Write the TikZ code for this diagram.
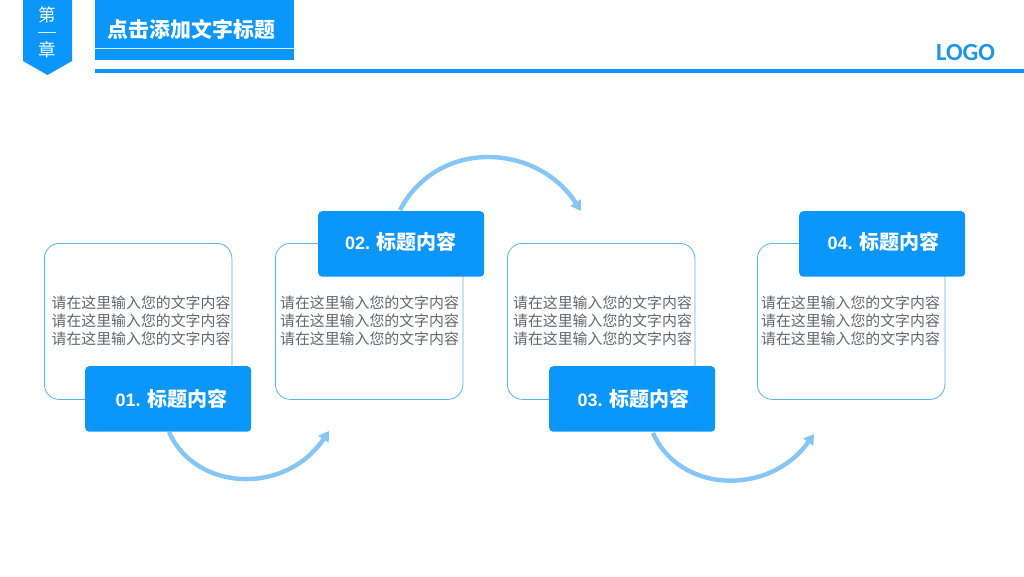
\documentclass[tikz,border=0pt]{standalone}
\usepackage{fontspec}
\setmainfont{Liberation Sans}
\newfontfamily\cjk{Noto Sans CJK SC}
\newfontfamily\logofont{Carlito}
\usetikzlibrary{arrows.meta,positioning}
\definecolor{mainblue}{HTML}{0A96FA}
\definecolor{arcblue}{HTML}{85C6F6}
\definecolor{cardline}{HTML}{5AB4E6}
\definecolor{bodygrey}{HTML}{62676E}
\definecolor{logoblue}{HTML}{1E96E6}
\tikzset{
  x=1pt,y=-1pt,
  card/.style={draw=cardline,line width=0.8pt,fill=white,rounded corners=15pt,minimum width=187.5pt,minimum height=156pt,inner sep=0pt,anchor=north west},
  body/.style={text=bodygrey,font=\cjk\fontsize{14.9pt}{18pt}\selectfont,align=center,inner sep=0pt},
  titlebox/.style={fill=mainblue,rounded corners=4pt,minimum width=166pt,minimum height=65.5pt,inner sep=0pt,anchor=north west},
  boxlabel/.style={text=white,inner sep=0pt,font=\fontsize{18pt}{20pt}\selectfont\bfseries},
  flow/.style={draw=arcblue,line width=4.4pt,-{Triangle[length=10pt,width=12pt]}},
}
\newcommand{\bodytext}{请在这里输入您的文字内容\\请在这里输入您的文字内容\\请在这里输入您的文字内容}
\newcommand{\boxtitle}[1]{#1. {\cjk\fontsize{20pt}{22pt}\selectfont 标题内容}}
\begin{document}
\begin{tikzpicture}
\useasboundingbox (0,0) rectangle (1024,576);
% header
\fill[mainblue] (23,0) -- (72,0) -- (72,61) -- (47.5,75) -- (23,61) -- cycle;
\node[text=white,font=\cjk\fontsize{17.5pt}{20pt}\selectfont,inner sep=0pt] (ch1) at (47.5,15) {第};
\fill[white!85!mainblue] (38,31.5) rectangle (56,32.5);
\node[text=white,font=\cjk\fontsize{17.5pt}{20pt}\selectfont,inner sep=0pt] (ch3) at (47.5,50) {章};
\fill[mainblue] (95,0) rectangle (294,60);
\fill[white!85!mainblue] (95,47.5) rectangle (294,48.5);
\node[text=white,font=\cjk\bfseries\fontsize{20.9pt}{24pt}\selectfont,inner sep=0pt] (head) at (191.5,29) {点击添加文字标题};
\fill[mainblue] (95,69) rectangle (1024,72.5);
\node[text=logoblue,font=\logofont\bfseries\fontsize{24.6pt}{26pt}\selectfont,inner sep=0pt] (logo) at (965.5,53) {LOGO};
% cards
\node[card] (c1) at (44,243) {};
\node[card] (c2) at (275,243) {};
\node[card] (c3) at (507,243) {};
\node[card] (c4) at (757,243) {};
\node[body] (t1) at (141,321) {\bodytext};
\node[body] (t2) at (369.5,321) {\bodytext};
\node[body] (t3) at (602.5,321) {\bodytext};
\node[body] (t4) at (850.5,321) {\bodytext};
% title boxes
\node[titlebox] (b1) at (85,366) {};
\node[titlebox] (b2) at (318,211) {};
\node[titlebox] (b3) at (549,366) {};
\node[titlebox] (b4) at (799,211) {};
\node[boxlabel] (l1) at (171.5,399) {\boxtitle{01}};
\node[boxlabel] (l2) at (401,242) {\boxtitle{02}};
\node[boxlabel] (l3) at (633.5,399) {\boxtitle{03}};
\node[boxlabel] (l4) at (883.5,242) {\boxtitle{04}};
% arrow ends
\coordinate (e1) at (329,431);
\coordinate (e2) at (581,211);
\coordinate (e3) at (814,434);
\coordinate (s1) at (169,432);
\coordinate (s2) at (400,210);
\coordinate (s3) at (653,433);
\draw[flow] (s1) .. controls (195,491) and (285,496) .. (e1);
\draw[flow] (s2) .. controls (438,138) and (537,143) .. (e2);
\draw[flow] (s3) .. controls (680,494) and (770,496) .. (e3);
\end{tikzpicture}
\end{document}
